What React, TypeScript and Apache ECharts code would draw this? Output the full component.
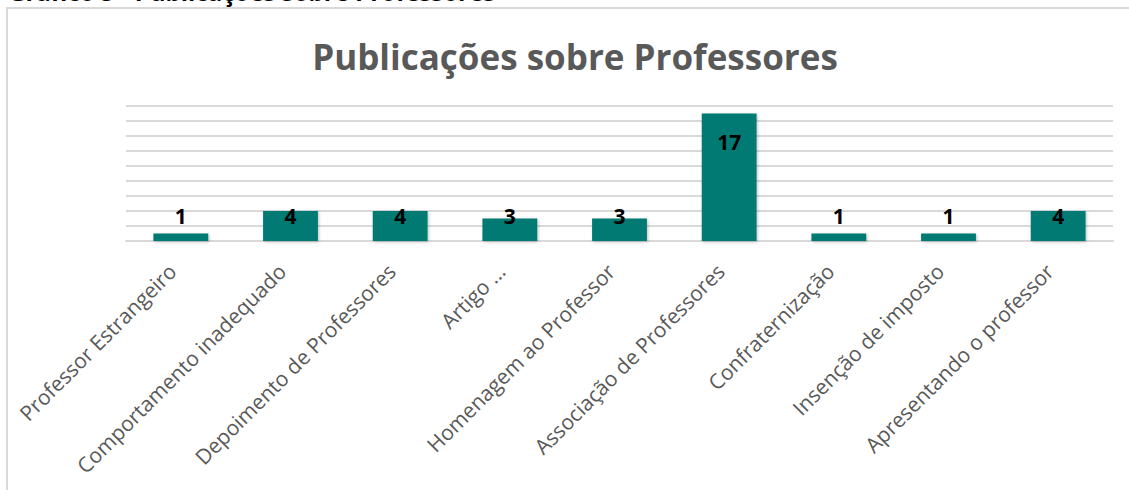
import React, { useEffect, useRef } from "react";
import * as echarts from "echarts";

const title = "Publicações sobre Professores";
const caption = "Gráfico 5 - Publicações sobre Professores";
const categories = [
  "Professor Estrangeiro",
  "Comportamento inadequado",
  "Depoimento de Professores",
  "Artigo ...",
  "Homenagem ao Professor",
  "Associação de Professores",
  "Confraternização",
  "Insenção de imposto",
  "Apresentando o professor",
];
const values = [1, 4, 4, 3, 3, 17, 1, 1, 4];
const yMax = 18;
const yInterval = 2;

export default function App() {
  const ref = useRef<HTMLDivElement>(null);
  useEffect(() => {
    if (!ref.current) return;
    const chart = echarts.init(ref.current, null, { renderer: "svg" });
    const gridTop = 106;
    const gridBottom = 249;
    const plotH = 490 - gridTop - gridBottom;
    const pxPerUnit = plotH / yMax;
    const baseY = 490 - gridBottom;
    const smallLabelCenter = 216;
    const data = values.map((v) => {
      const barTop = baseY - v * pxPerUnit;
      const dy = v >= 10 ? 28.5 : smallLabelCenter - barTop;
      return {
        value: v,
        label: {
          show: true,
          position: ["50%", dy] as any,
          align: "center",
          verticalAlign: "middle",
        },
      };
    });
    chart.setOption({
      animation: false,
      backgroundColor: "#ffffff",
      title: {
        text: title,
        left: 570,
        textAlign: "center",
        top: 34,
        textStyle: {
          fontFamily: "Open Sans",
          fontWeight: "bold",
          fontSize: 35,
          color: "#595959",
        },
      },
      graphic: [
        {
          type: "rect",
          shape: { x: 7, y: 8, width: 1140, height: 500 },
          style: { fill: "none", stroke: "#d9d9d9", lineWidth: 2 },
          silent: true,
        },
        {
          type: "text",
          left: 8,
          top: -21,
          style: {
            text: caption,
            fontFamily: "Open Sans",
            fontWeight: "bold",
            fontSize: 24,
            fill: "#000000",
          },
          silent: true,
        },
      ],
      grid: { left: 126, right: 16, top: gridTop, bottom: gridBottom },
      xAxis: {
        type: "category",
        data: categories,
        axisLine: { lineStyle: { color: "#d9d9d9", width: 2 } },
        axisTick: { show: false },
        axisLabel: {
          interval: 0,
          rotate: 45,
          margin: 18,
          padding: [0, 12, 0, 0],
          color: "#595959",
          fontFamily: "Open Sans",
          fontSize: 21,
        },
      },
      yAxis: {
        type: "value",
        min: 0,
        max: yMax,
        interval: yInterval,
        axisLabel: { show: false },
        axisLine: { show: false },
        axisTick: { show: false },
        splitLine: { lineStyle: { color: "#d9d9d9", width: 2 } },
      },
      series: [
        {
          type: "bar",
          data,
          barWidth: "50%",
          itemStyle: {
            color: "#007a72",
            shadowColor: "rgba(0,0,0,0.25)",
            shadowBlur: 3,
            shadowOffsetX: 1,
            shadowOffsetY: 1,
          },
          label: {
            show: true,
            color: "#000000",
            fontFamily: "Open Sans",
            fontWeight: "bold",
            fontSize: 21,
          },
        },
      ],
    });
    return () => chart.dispose();
  }, []);
  return (
    <div
      ref={ref}
      style={{ position: "fixed", left: 0, top: 0, width: 1129, height: 490 }}
    />
  );
}
